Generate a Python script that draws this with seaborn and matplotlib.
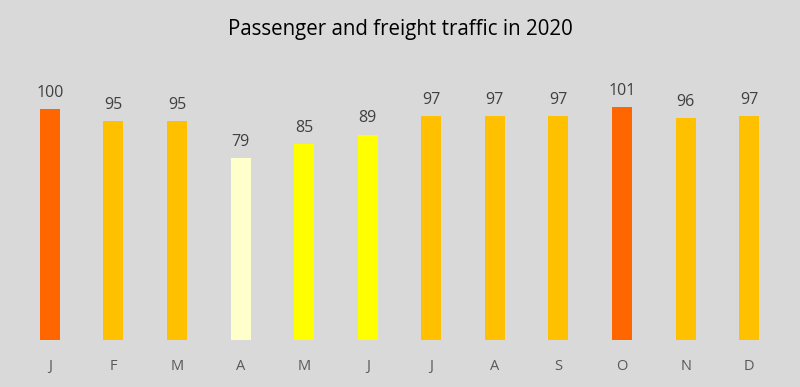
import matplotlib
matplotlib.use("Agg")
import matplotlib.pyplot as plt
import seaborn as sns
import pandas as pd

months = ["Jan", "Feb", "Mar", "Apr", "May", "Jun", "Jul", "Aug", "Sep", "Oct", "Nov", "Dec"]
tick_labels = ["J", "F", "M", "A", "M", "J", "J", "A", "S", "O", "N", "D"]
values = [100, 95, 95, 79, 85, 89, 97, 97, 97, 101, 96, 97]
value_labels = ["100", "95", "95", "79", "85", "89", "97", "97", "97", "101", "96", "97"]
colors = ["#FF6600", "#FFC000", "#FFC000", "#FFFFCC", "#FFFF00", "#FFFF00",
          "#FFC000", "#FFC000", "#FFC000", "#FF6600", "#FFC000", "#FFC000"]

df = pd.DataFrame({"month": months, "value": values})

sns.set_style("white")
plt.rcParams["font.family"] = ["Open Sans", "DejaVu Sans"]

fig = plt.figure(figsize=(8, 3.87), dpi=100, facecolor="#D9D9D9")
ax = fig.add_axes([0.0225, 0.1214, 0.9537, 0.716])
ax.set_facecolor("#D9D9D9")

sns.barplot(data=df, x="month", y="value", hue="month", palette=colors,
            legend=False, width=0.315, ax=ax, saturation=1, linewidth=0,
            edgecolor="none")

for i, (v, lab) in enumerate(zip(values, value_labels)):
    ax.text(i, v + 3.5, lab, ha="center", va="bottom", fontsize=11.5, color="#404040")

ax.set_ylim(0, 120)
ax.set_xlim(-0.5, len(months) - 0.5)
ax.set_xticks(range(len(months)))
ax.set_xticklabels(tick_labels, fontsize=10.5, color="#595959")
ax.tick_params(axis="x", length=0, pad=14)
ax.set_yticks([])
ax.set_xlabel("")
ax.set_ylabel("")
for s in ax.spines.values():
    s.set_visible(False)

fig.text(0.5, 0.925, "Passenger and freight traffic in 2020", ha="center", va="center",
         fontsize=14.8, color="#000000")

fig.savefig("out.png", dpi=100, facecolor=fig.get_facecolor())
